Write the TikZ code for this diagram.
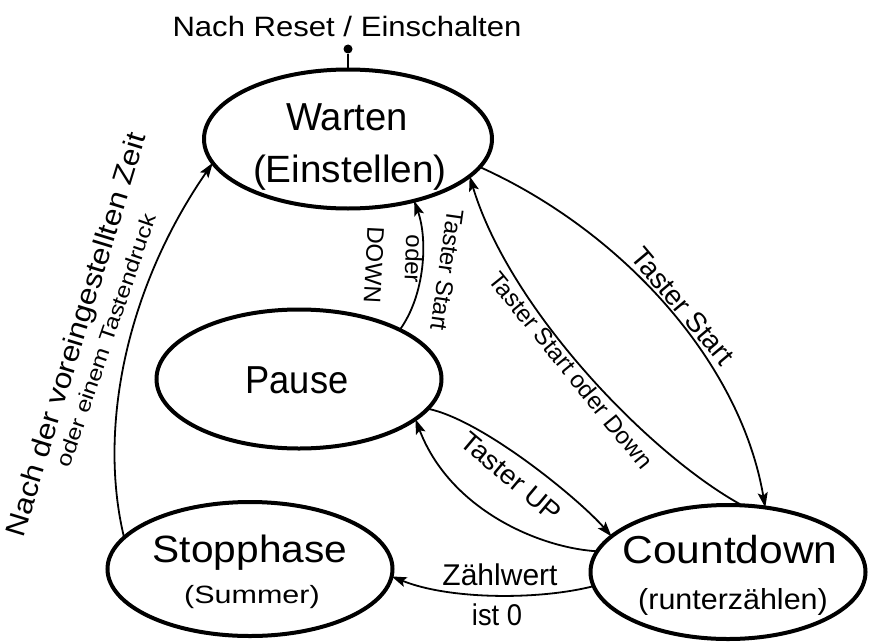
\documentclass[tikz,border=0pt]{standalone}
\usepackage{fontspec}
\setmainfont{Liberation Sans}
\usepackage{graphicx}
\usetikzlibrary{shapes.geometric,arrows.meta}
% size, horizontal stretch, text
\newcommand{\fs}[3]{{\fontsize{#1}{#1}\selectfont\scalebox{#2}[1]{#3}}}
\begin{document}
\begin{tikzpicture}[x=1pt,y=-1pt,
  state/.style={ellipse, draw, line width=4pt, inner sep=0pt, outer sep=0pt},
  trans/.style={line width=1.8pt, -{Stealth[length=15pt,width=10pt,inset=3pt]}},
  plain/.style={line width=2.5pt},
  txt/.style={inner sep=0pt, anchor=base},
  lab/.style={inner sep=0pt}]
\useasboundingbox (0,0) rectangle (869,642);

% states
\node[state, minimum width=288pt, minimum height=139pt] (W) at (348,139) {};
\node[state, minimum width=285pt, minimum height=139pt] (P) at (299,379) {};
\node[state, minimum width=285pt, minimum height=134pt] (S) at (250,569) {};
\node[state, minimum width=275pt, minimum height=134pt] (C) at (728,572) {};

% state texts
\node[txt] (Wt1) at (347,130) {\fs{39}{0.98}{Warten}};
\node[txt] (Wt2) at (350,182) {\fs{38}{1.02}{(Einstellen)}};
\node[txt] (Pt1) at (297,393) {\fs{39}{0.93}{Pause}};
\node[txt] (St1) at (250,562) {\fs{38}{1.07}{Stopphase}};
\node[txt] (St2) at (252,603) {\fs{25}{1.22}{(Summer)}};
\node[txt] (Ct1) at (730,563) {\fs{39}{1.09}{Countdown}};
\node[txt] (Ct2) at (733,609) {\fs{29}{1.05}{(runterzählen)}};

% initial transition
\node[txt] (initlab) at (347,37) {\fs{28}{1.11}{Nach Reset / Einschalten}};
\node[circle, fill, minimum size=9pt, inner sep=0pt] (init) at (348,49) {};
\draw[plain] (init) -- (W.north);

% Warten -> Countdown
\draw[trans] (W.-12) .. controls (620,230) and (740,360) .. (C.60);
\node[lab, rotate=-50] (l1) at (683,306) {\fs{28}{1.0}{Taster Start}};

% Countdown -> Warten
\draw[trans] (C.78) .. controls (650,455) and (510,310) .. (W.-17);
\node[lab, rotate=-51] (l2) at (571,370) {\fs{24}{1.0}{Taster Start oder Down}};

% Pause -> Warten
\draw[trans] (P.26) .. controls (425,295) and (428,240) .. (W.-43);
\node[lab, rotate=-98] (l3a) at (447,270) {\fs{24}{1.0}{Taster Start}};
\node[lab, rotate=-92] (l3b) at (414,259) {\fs{24}{1.0}{oder}};
\node[lab, rotate=-93] (l3c) at (374,265) {\fs{24}{1.0}{DOWN}};

% Pause -> Countdown and back
\draw[trans] (P.-13) .. controls (483,420) and (580,500) .. (C.163);
\draw[trans] (C.171) .. controls (540,548) and (450,510) .. (P.-19);
\node[lab, rotate=-40] (l4) at (511,477) {\fs{27}{1.03}{Taster UP}};

% Countdown -> Stopphase
\draw[trans] (C.186) .. controls (540,600) and (450,600) .. (S.-3);
\node[txt] (l5a) at (500,585) {\fs{30}{1.0}{Zählwert}};
\node[txt] (l5b) at (497,625) {\fs{30}{0.91}{ist 0}};

% Stopphase -> Warten
\draw[trans] (S.166) .. controls (98,430) and (125,290) .. (W.190);
\node[lab, rotate=73] (l6a) at (78,335) {\fs{28}{1.13}{Nach der voreingestellten Zeit}};
\node[lab, rotate=71] (l6b) at (106,340) {\fs{21}{1.19}{oder einem Tastendruck}};
\end{tikzpicture}
\end{document}
